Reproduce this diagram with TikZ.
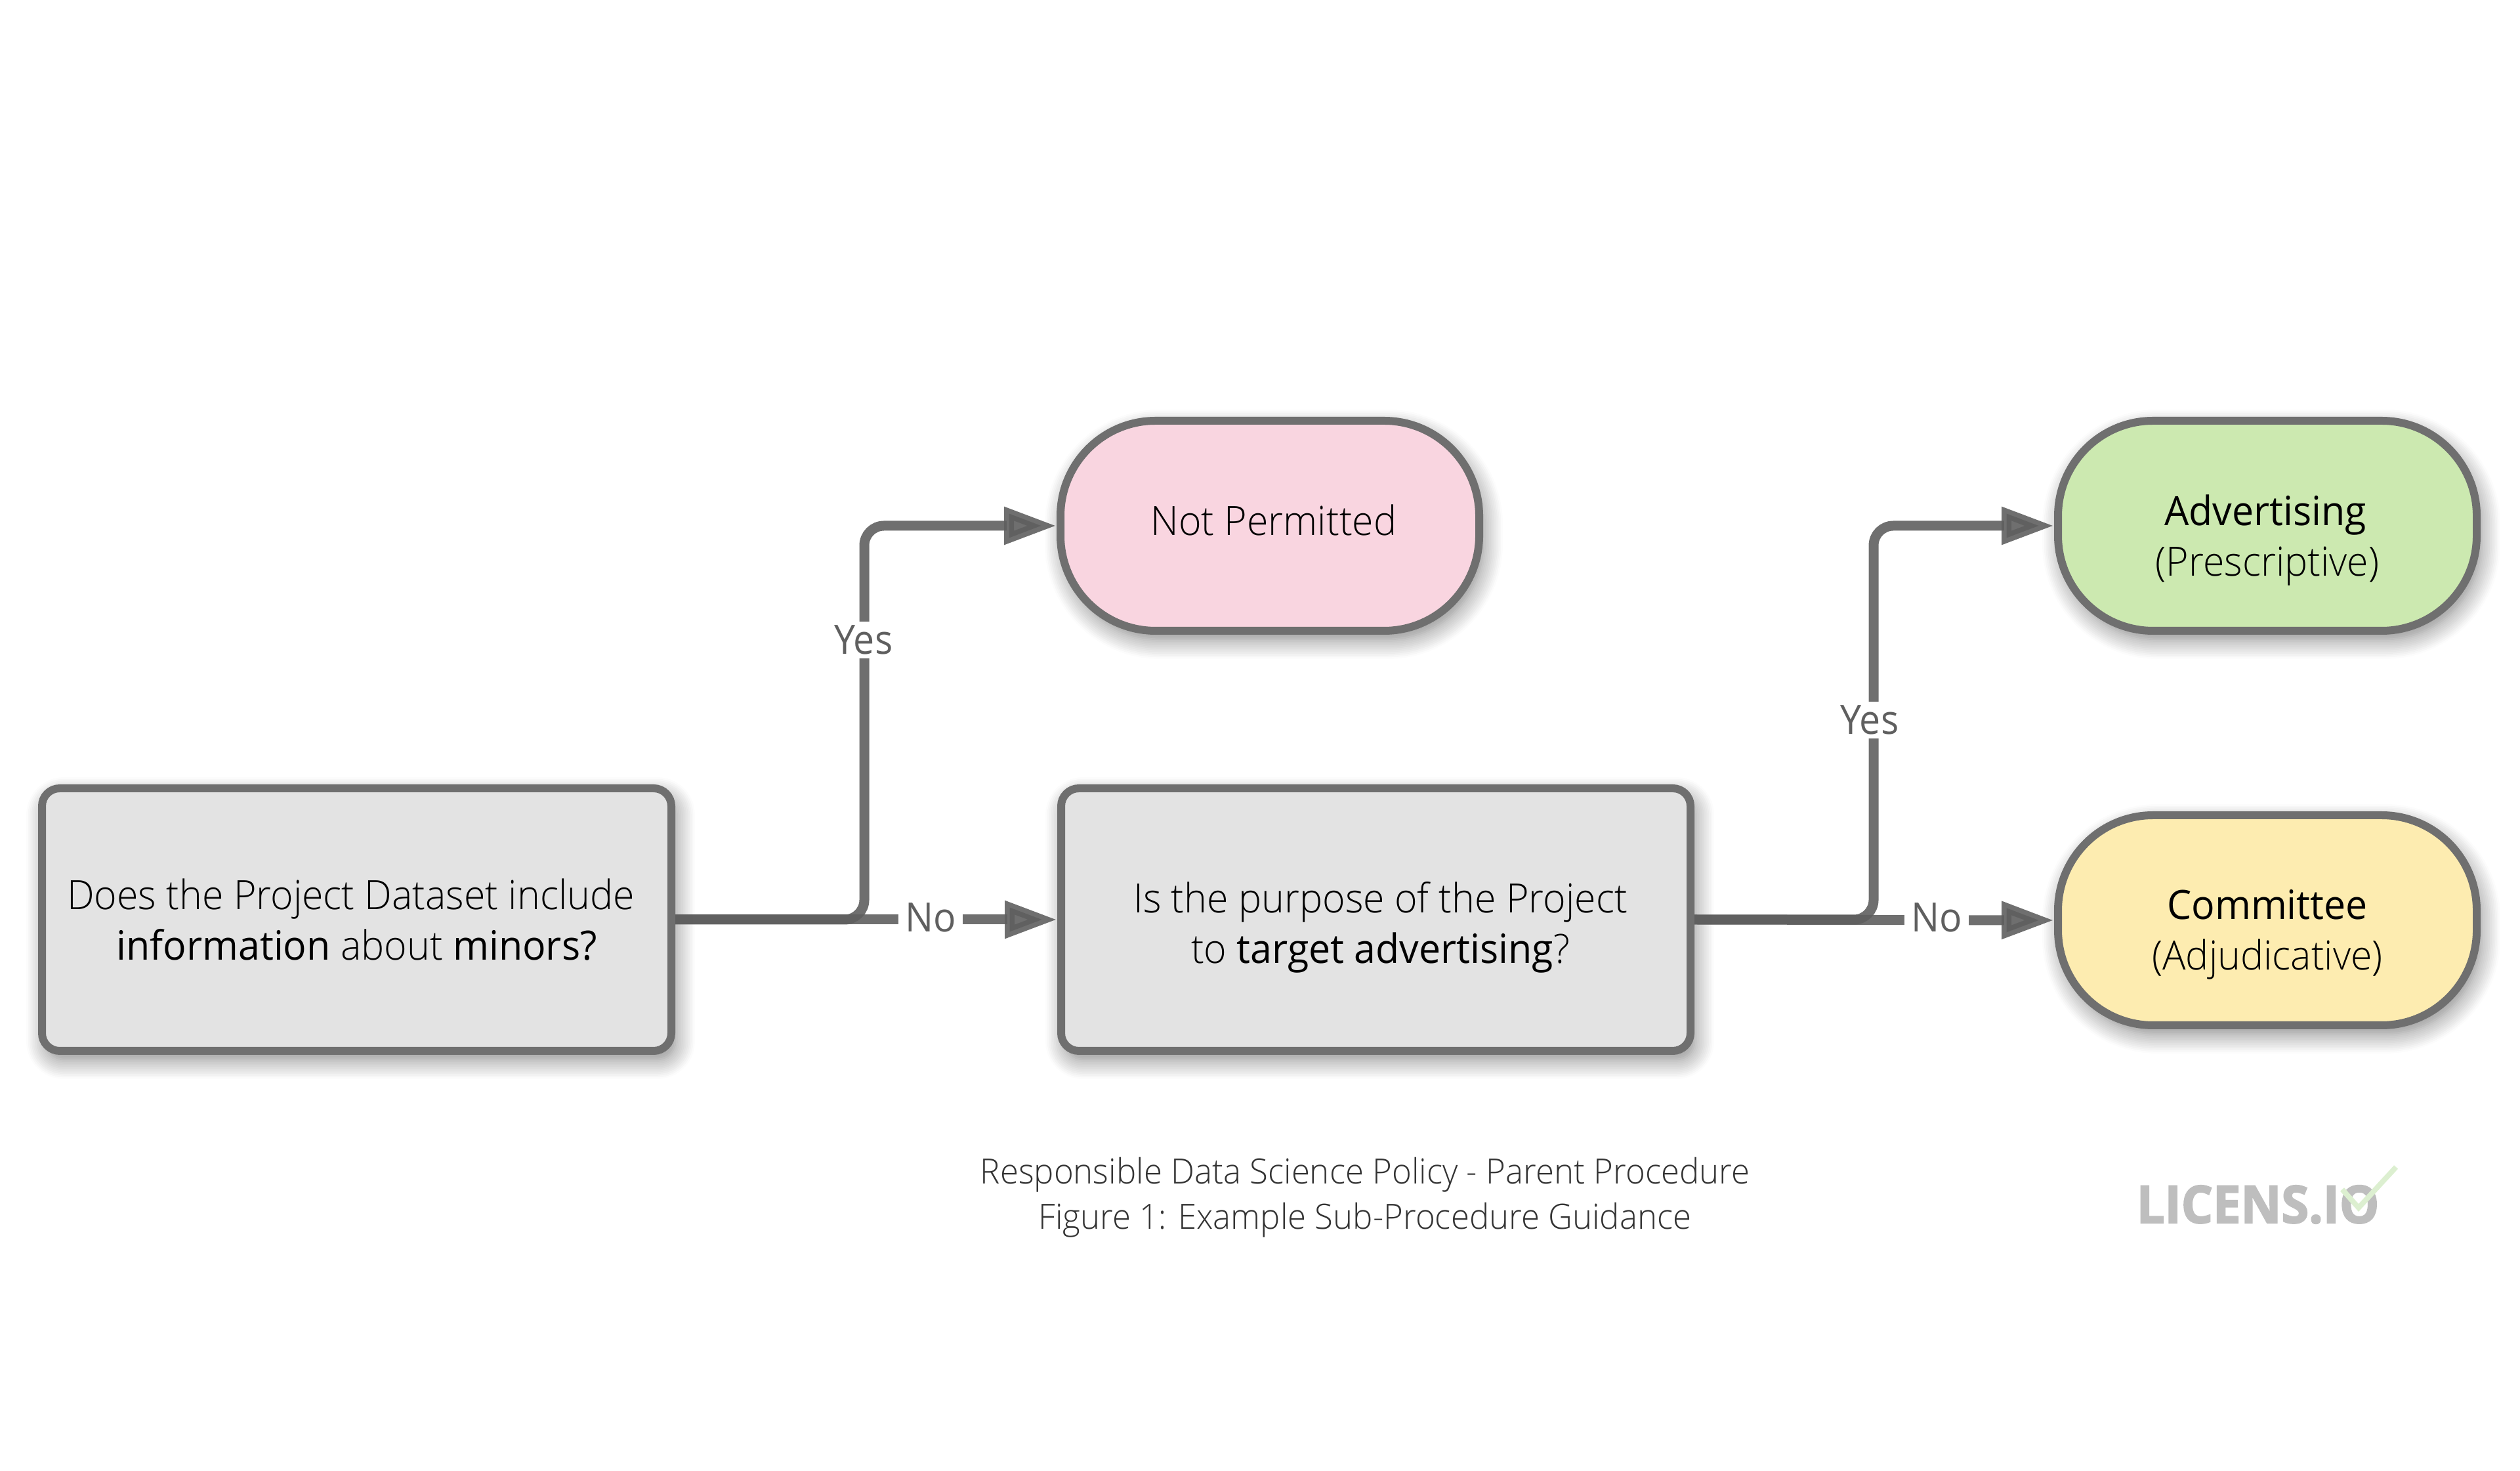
\documentclass[tikz,border=0pt]{standalone}
\usepackage{fontspec}
\setmainfont{Open Sans}[UprightFont=* Light, BoldFont=*, FakeStretch=0.96]
\newfontfamily\labelfont{Open Sans}[FakeStretch=0.93]
\newfontfamily\logofont{Open Sans}[BoldFeatures={FakeBold=2.5,FakeStretch=0.96}]
\usepackage{xcolor}
\usepackage{tikz}
\usetikzlibrary{calc,positioning,arrows.meta,shadows.blur}
\definecolor{edgegray}{HTML}{6F6F6F}
\definecolor{arrowgray}{HTML}{5F5F5F}
\definecolor{labelgray}{HTML}{5F5F5F}
\definecolor{boxgray}{HTML}{E3E3E3}
\definecolor{permitpink}{HTML}{F9D5E0}
\definecolor{advgreen}{HTML}{CCE9B0}
\definecolor{comyellow}{HTML}{FDECB0}
\definecolor{checkgreen}{HTML}{DCEFD0}
\definecolor{logogray}{HTML}{BEBEBE}
\newcommand{\nudged}[3]{\hspace*{#1}\raisebox{#2}[\height][\depth]{#3}}

\begin{document}
\begin{tikzpicture}[
    softshadow/.style={blur shadow={shadow xshift=0.06cm, shadow yshift=-0.13cm, shadow blur radius=0.3cm, shadow blur steps=12, shadow opacity=50}},
    question/.style={rectangle, draw=edgegray, line width=0.12cm, fill=boxgray, rounded corners=0.27cm, minimum width=9.59cm, minimum height=4cm, align=center, softshadow, font=\fontsize{17.5}{22}\selectfont},
    outcome/.style={rectangle, draw=edgegray, line width=0.12cm, rounded corners=1.45cm, minimum width=6.38cm, minimum height=3.2cm, align=center, softshadow, font=\fontsize{17.5}{22}\selectfont},
    arrow/.style={-{Triangle[length=0.8cm,width=0.54cm]}, draw=arrowgray, draw opacity=0.9, fill opacity=0.9, line width=0.15cm, rounded corners=0.3cm},
    edgelabel/.style={fill=white, text=labelgray, inner xsep=0.1cm, inner ysep=0.06cm, font=\labelfont\fontsize{17.5}{22}\selectfont}]

    \useasboundingbox (0,0) rectangle (38.4,22.4);

    \node [question] at (5.435,8.39) (minors) {\nudged{-0.18cm}{0cm}{Does the Project Dataset include}\\\textbf{information} about \textbf{minors?}};
    \node [question] at (20.965,8.39) (target) {\nudged{0.14cm}{-0.12cm}{Is the purpose of the Project}\\\nudged{0.14cm}{-0.12cm}{to \textbf{target advertising}?}};
    \node [outcome, fill=permitpink] at (19.35,14.39) (notperm) {\nudged{0.12cm}{0.09cm}{Not Permitted}};
    \node [outcome, fill=advgreen] at (34.55,14.39) (adver) {\nudged{-0.06cm}{-0.22cm}{\textbf{Advertising}}\\\nudged{0cm}{-0.22cm}{(Prescriptive)}};
    \node [outcome, fill=comyellow] at (34.55,8.38) (commit) {\nudged{0cm}{-0.22cm}{\textbf{Committee}}\\\nudged{0cm}{-0.22cm}{(Adjudicative)}};

    \coordinate (turnyes) at (13.17,8.39);
    \coordinate (turnadv) at (28.55,8.39);

    \draw [arrow] (minors.east) -- (turnyes) -- (turnyes |- notperm.west) -- (notperm.west);
    \draw [arrow] (minors.east) -- (target.west);
    \draw [arrow] (target.east) -- (turnadv) -- (turnadv |- adver.west) -- (adver.west);
    \draw [arrow] (target.east) -- (commit.west);

    \node [edgelabel] at (13.16,12.65) (yesa) {Yes};
    \node [edgelabel] at (14.18,8.42) (noa) {No};
    \node [edgelabel] at (28.49,11.43) (yesb) {Yes};
    \node [edgelabel] at (29.51,8.42) (nob) {No};

    % caption and logo
    \node [align=center, text=black!80, font=\fontsize{15.1}{19.6}\selectfont] at (20.8,4.16) (caption) {Responsible Data Science Policy - Parent Procedure\\Figure 1: Example Sub-Procedure Guidance};
    \node [anchor=west, inner sep=0pt, text=logogray, font=\logofont\bfseries\fontsize{22.5}{24}\selectfont] at (32.55,4.05) (logo) {LICENS.IO};
    \draw [draw=checkgreen, line width=0.08cm] (35.69,4.28) -- (35.94,4.0) -- (36.51,4.62);
\end{tikzpicture}
\end{document}
